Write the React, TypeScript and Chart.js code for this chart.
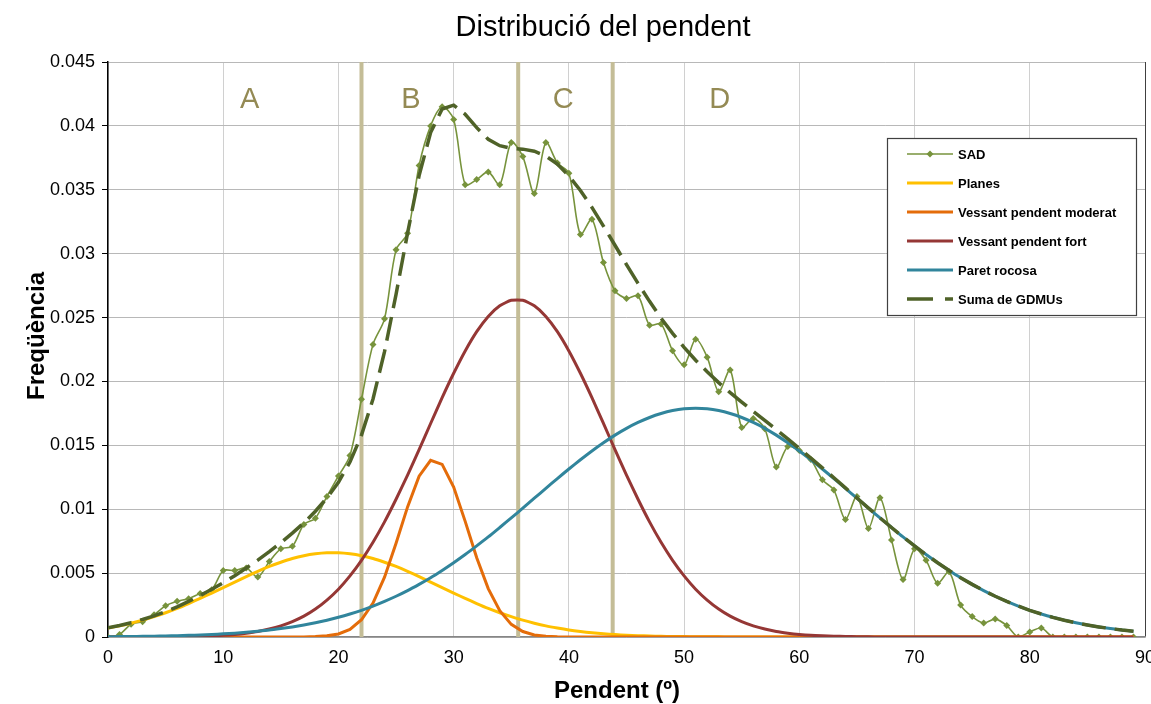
import React, { useEffect, useRef } from "react";
import { Chart, registerables } from "chart.js";

Chart.register(...registerables);

const FONT = "'Liberation Sans', Arial, sans-serif";

const chartTitle = "Distribució del pendent";
const xAxisTitle = "Pendent (º)";
const yAxisTitle = "Freqüència";

const degrees = [
  0, 1, 2, 3, 4, 5, 6, 7, 8, 9,
  10, 11, 12, 13, 14, 15, 16, 17, 18, 19,
  20, 21, 22, 23, 24, 25, 26, 27, 28, 29,
  30, 31, 32, 33, 34, 35, 36, 37, 38, 39,
  40, 41, 42, 43, 44, 45, 46, 47, 48, 49,
  50, 51, 52, 53, 54, 55, 56, 57, 58, 59,
  60, 61, 62, 63, 64, 65, 66, 67, 68, 69,
  70, 71, 72, 73, 74, 75, 76, 77, 78, 79,
  80, 81, 82, 83, 84, 85, 86, 87, 88, 89,
];

const sad = [
  0, 0.0002, 0.001, 0.0012, 0.00175, 0.00245, 0.0028, 0.003, 0.0034, 0.0037,
  0.0052, 0.0052, 0.0054, 0.0047, 0.0059, 0.0069, 0.0071, 0.0088, 0.0093, 0.011,
  0.0126, 0.0142, 0.0186, 0.0229, 0.0249, 0.0303, 0.0316, 0.0369, 0.04, 0.0415,
  0.0405, 0.0354, 0.0358, 0.0364, 0.0354, 0.0387, 0.0376, 0.0347, 0.0387, 0.0371,
  0.0363, 0.0315, 0.0327, 0.0293, 0.0271, 0.0265, 0.0267, 0.0244, 0.0245, 0.0224,
  0.0213, 0.0233, 0.0219, 0.0192, 0.0209, 0.0164, 0.0171, 0.0163, 0.0133, 0.0149,
  0.0146, 0.0139, 0.0123, 0.0115, 0.0092, 0.011, 0.0085, 0.0109, 0.0076, 0.0045,
  0.0069, 0.006, 0.0042, 0.0051, 0.0025, 0.0016, 0.0011, 0.0014, 0.0009, 0,
  0.0004, 0.0007, 0, 0, 0, 0, 0, 0, 0, 0,
];

const planes = [
  0.0007, 0.00087, 0.00108, 0.00132, 0.00159, 0.0019, 0.00224, 0.00262, 0.00302, 0.00344,
  0.00387, 0.0043, 0.00473, 0.00514, 0.00552, 0.00585, 0.00614, 0.00636, 0.00651, 0.00659,
  0.00659, 0.00651, 0.00636, 0.00614, 0.00585, 0.00552, 0.00514, 0.00473, 0.0043, 0.00387,
  0.00344, 0.00302, 0.00262, 0.00224, 0.0019, 0.00159, 0.00132, 0.00108, 0.00087, 0.0007,
  0.00055, 0.00043, 0.00033, 0.00025, 0.00019, 0.00014, 0.0001, 0.00008, 0.00005, 0.00004,
  0.00003, 0.00002, 0.00001, 0.00001, 0, 0, 0, 0, 0, 0,
  0, 0, 0, 0, 0, 0, 0, 0, 0, 0,
  0, 0, 0, 0, 0, 0, 0, 0, 0, 0,
  0, 0, 0, 0, 0, 0, 0, 0, 0, 0,
];

const moderat = [
  0, 0, 0, 0, 0, 0, 0, 0, 0, 0,
  0, 0, 0, 0, 0, 0, 0, 0, 0.00003, 0.00009,
  0.00024, 0.0006, 0.00135, 0.00266, 0.00468, 0.00733, 0.01018, 0.01259, 0.01383, 0.01351,
  0.01173, 0.00905, 0.00621, 0.00379, 0.00206, 0.00099, 0.00043, 0.00016, 0.00005, 0.00001,
  0, 0, 0, 0, 0, 0, 0, 0, 0, 0,
  0, 0, 0, 0, 0, 0, 0, 0, 0, 0,
  0, 0, 0, 0, 0, 0, 0, 0, 0, 0,
  0, 0, 0, 0, 0, 0, 0, 0, 0, 0,
  0, 0, 0, 0, 0, 0, 0, 0, 0, 0,
];

const fort = [
  0, 0, 0, 0, 0, 0.00001, 0.00002, 0.00004, 0.00006, 0.00009,
  0.00013, 0.0002, 0.0003, 0.00043, 0.00062, 0.00087, 0.0012, 0.00163, 0.00219, 0.00289,
  0.00374, 0.00478, 0.006, 0.00741, 0.00901, 0.01078, 0.01267, 0.01467, 0.01671, 0.01873,
  0.02064, 0.02239, 0.0239, 0.02509, 0.02592, 0.02635, 0.02635, 0.02592, 0.02509, 0.0239,
  0.02239, 0.02064, 0.01873, 0.01671, 0.01467, 0.01267, 0.01078, 0.00901, 0.00741, 0.006,
  0.00478, 0.00374, 0.00289, 0.00219, 0.00163, 0.0012, 0.00087, 0.00062, 0.00043, 0.0003,
  0.0002, 0.00013, 0.00009, 0.00006, 0.00004, 0.00002, 0.00001, 0, 0, 0,
  0, 0, 0, 0, 0, 0, 0, 0, 0, 0,
  0, 0, 0, 0, 0, 0, 0, 0, 0, 0,
];

const paret = [
  0.00002, 0.00003, 0.00004, 0.00005, 0.00006, 0.00008, 0.0001, 0.00013, 0.00016, 0.0002,
  0.00025, 0.0003, 0.00037, 0.00045, 0.00054, 0.00066, 0.00079, 0.00094, 0.00111, 0.00131,
  0.00154, 0.0018, 0.00209, 0.00242, 0.00279, 0.00319, 0.00363, 0.00412, 0.00464, 0.00521,
  0.00581, 0.00645, 0.00713, 0.00783, 0.00857, 0.00932, 0.01008, 0.01086, 0.01163, 0.0124,
  0.01315, 0.01387, 0.01456, 0.0152, 0.0158, 0.01633, 0.01679, 0.01718, 0.01749, 0.01772,
  0.01786, 0.0179, 0.01786, 0.01772, 0.01749, 0.01718, 0.01679, 0.01633, 0.0158, 0.0152,
  0.01456, 0.01387, 0.01315, 0.0124, 0.01163, 0.01086, 0.01008, 0.00932, 0.00857, 0.00783,
  0.00713, 0.00645, 0.00581, 0.00521, 0.00464, 0.00412, 0.00363, 0.00319, 0.00279, 0.00242,
  0.00209, 0.0018, 0.00154, 0.00131, 0.00111, 0.00094, 0.00079, 0.00066, 0.00054, 0.00045,
];

const suma = [
  0.00072, 0.0009, 0.00112, 0.00137, 0.00165, 0.00199, 0.00236, 0.00279, 0.00324, 0.00373,
  0.00425, 0.0048, 0.0054, 0.00602, 0.00668, 0.00738, 0.00813, 0.00893, 0.00984, 0.01088,
  0.01211, 0.01369, 0.0158, 0.01863, 0.02233, 0.02682, 0.03162, 0.03611, 0.03948, 0.04132,
  0.04162, 0.04091, 0.03986, 0.03895, 0.03845, 0.03825, 0.03818, 0.03802, 0.03764, 0.03701,
  0.03609, 0.03494, 0.03362, 0.03216, 0.03066, 0.02914, 0.02767, 0.02627, 0.02495, 0.02376,
  0.02267, 0.02166, 0.02076, 0.01991, 0.01912, 0.01838, 0.01766, 0.01695, 0.01623, 0.0155,
  0.01476, 0.014, 0.01324, 0.01246, 0.01167, 0.01088, 0.01009, 0.00932, 0.00857, 0.00783,
  0.00713, 0.00645, 0.00581, 0.00521, 0.00464, 0.00412, 0.00363, 0.00319, 0.00279, 0.00242,
  0.00209, 0.0018, 0.00154, 0.00131, 0.00111, 0.00094, 0.00079, 0.00066, 0.00054, 0.00045,
];

const xTickValues = [0, 10, 20, 30, 40, 50, 60, 70, 80, 90];
const yTickValues = [0, 0.005, 0.01, 0.015, 0.02, 0.025, 0.03, 0.035, 0.04, 0.045];
const yTickLabels = ["0", "0.005", "0.01", "0.015", "0.02", "0.025", "0.03", "0.035", "0.04", "0.045"];

const zoneBounds = [22, 35.6, 43.8];
const zoneLabels = ["A", "B", "C", "D"];
const zoneLabelX = [12.3, 26.3, 39.5, 53.1];
const zoneLabelY = 0.042;

const seriesNames = [
  "SAD",
  "Planes",
  "Vessant pendent moderat",
  "Vessant pendent fort",
  "Paret rocosa",
  "Suma de GDMUs",
];
const seriesColors = ["#77933C", "#FFC000", "#E46C0A", "#953735", "#31859C", "#4F6228"];

const toPoints = (ys: number[]) => degrees.map((d, i) => ({ x: d, y: ys[i] }));

const textPlugin = {
  id: "customText",
  afterDraw(chart: any) {
    const { ctx, scales } = chart;
    const xs = scales.x;
    const ys = scales.y;
    ctx.save();
    ctx.fillStyle = "#000";
    ctx.textAlign = "center";
    ctx.textBaseline = "middle";
    ctx.font = `29px ${FONT}`;
    ctx.fillText(chartTitle, 603, 28);

    ctx.font = `bold 24px ${FONT}`;
    ctx.fillText(xAxisTitle, 617, 691);

    ctx.save();
    ctx.translate(37, 336);
    ctx.rotate(-Math.PI / 2);
    ctx.fillText(yAxisTitle, 0, 0);
    ctx.restore();

    // zone letters
    ctx.fillStyle = "#948A54";
    ctx.font = `29px ${FONT}`;
    zoneLabels.forEach((lab, i) => {
      ctx.fillText(lab, xs.getPixelForValue(zoneLabelX[i]), ys.getPixelForValue(zoneLabelY));
    });

    // legend
    const bx = 887, by = 138, bw = 249, bh = 177;
    ctx.fillStyle = "#fff";
    ctx.fillRect(bx, by, bw, bh);
    ctx.strokeStyle = "#404040";
    ctx.lineWidth = 1.2;
    ctx.strokeRect(bx + 0.5, by + 0.5, bw, bh);
    const rows = [154, 183, 212, 241, 270, 299];
    ctx.textAlign = "left";
    ctx.font = `bold 13px ${FONT}`;
    seriesNames.forEach((name, i) => {
      const y = rows[i];
      ctx.strokeStyle = seriesColors[i];
      ctx.lineWidth = i === 0 ? 1.5 : i === 5 ? 3.5 : 3;
      ctx.setLineDash(i === 5 ? [26, 12] : []);
      ctx.beginPath();
      ctx.moveTo(907, y);
      ctx.lineTo(953, y);
      ctx.stroke();
      ctx.setLineDash([]);
      if (i === 0) {
        ctx.fillStyle = seriesColors[0];
        ctx.beginPath();
        ctx.moveTo(930, y - 3.5);
        ctx.lineTo(933.5, y);
        ctx.lineTo(930, y + 3.5);
        ctx.lineTo(926.5, y);
        ctx.closePath();
        ctx.fill();
      }
      ctx.fillStyle = "#000";
      ctx.fillText(name, 958, y + 1);
    });
    ctx.restore();
  },
};

export default function App() {
  const canvasRef = useRef<HTMLCanvasElement | null>(null);

  useEffect(() => {
    if (!canvasRef.current) return;
    const vline = (x: number) => [
      { x, y: 0 },
      { x, y: 0.045 },
    ];
    const chart = new Chart(canvasRef.current, {
      type: "line",
      data: {
        datasets: [
          ...zoneBounds.map((b) => ({
            label: "zone",
            data: vline(b),
            borderColor: "#C4BD97",
            borderWidth: 4,
            pointRadius: 0,
            tension: 0,
            order: 10,
          })),
          {
            label: seriesNames[0],
            data: toPoints(sad),
            borderColor: seriesColors[0],
            backgroundColor: seriesColors[0],
            borderWidth: 1.6,
            pointRadius: 3.5,
            pointStyle: "rectRot",
            pointBorderWidth: 0,
            tension: 0.3,
            order: 6,
          },
          {
            label: seriesNames[1],
            data: toPoints(planes),
            borderColor: seriesColors[1],
            borderWidth: 3,
            pointRadius: 0,
            tension: 0.2,
            order: 5,
          },
          {
            label: seriesNames[2],
            data: toPoints(moderat),
            borderColor: seriesColors[2],
            borderWidth: 3,
            pointRadius: 0,
            tension: 0,
            order: 4,
          },
          {
            label: seriesNames[3],
            data: toPoints(fort),
            borderColor: seriesColors[3],
            borderWidth: 3,
            pointRadius: 0,
            tension: 0.2,
            order: 3,
          },
          {
            label: seriesNames[4],
            data: toPoints(paret),
            borderColor: seriesColors[4],
            borderWidth: 3,
            pointRadius: 0,
            tension: 0.2,
            order: 2,
          },
          {
            label: seriesNames[5],
            data: toPoints(suma),
            borderColor: seriesColors[5],
            borderWidth: 3.5,
            borderDash: [24, 9],
            pointRadius: 0,
            tension: 0,
            order: 1,
          },
        ],
      },
      options: {
        animation: false,
        responsive: false,
        devicePixelRatio: 1,
        layout: { padding: { top: 62, right: 6, bottom: 0, left: 0 } },
        plugins: {
          legend: { display: false },
          title: { display: false },
          tooltip: { enabled: false },
        },
        scales: {
          x: {
            type: "linear",
            min: 0,
            max: 90,
            afterBuildTicks: (scale: any) => {
              scale.ticks = xTickValues.map((v) => ({ value: v }));
            },
            afterFit: (scale: any) => {
              scale.height = 67;
              scale.paddingLeft = 0;
              scale.paddingRight = 0;
            },
            grid: {
              color: (c: any) => (c.tick && c.tick.value === 90 ? "#404040" : "#D0D0D0"),
              lineWidth: 1,
              drawTicks: false,
            },
            border: { display: true, color: "#868686", width: 1.5 },
            ticks: {
              padding: 10,
              maxRotation: 0,
              autoSkip: false,
              color: "#000",
              font: { family: FONT, size: 18 },
              callback: (v: any) => String(v),
            },
          },
          y: {
            type: "linear",
            min: 0,
            max: 0.045,
            afterBuildTicks: (scale: any) => {
              scale.ticks = yTickValues.map((v) => ({ value: v }));
            },
            afterFit: (scale: any) => {
              scale.width = 108;
            },
            grid: {
              color: "#B8B8B8",
              lineWidth: 1,
              drawTicks: true,
              tickLength: 6,
              tickColor: "#000",
            },
            border: { display: true, color: "#000", width: 1.5 },
            ticks: {
              padding: 7,
              color: "#000",
              font: { family: FONT, size: 18 },
              callback: (_v: any, i: number) => yTickLabels[i],
            },
          },
        },
      },
      plugins: [textPlugin],
    });
    return () => chart.destroy();
  }, []);

  return (
    <div style={{ position: "fixed", left: 0, top: 0, width: 1151, height: 704, background: "#fff" }}>
      <canvas ref={canvasRef} width={1151} height={704} style={{ display: "block" }} />
    </div>
  );
}
